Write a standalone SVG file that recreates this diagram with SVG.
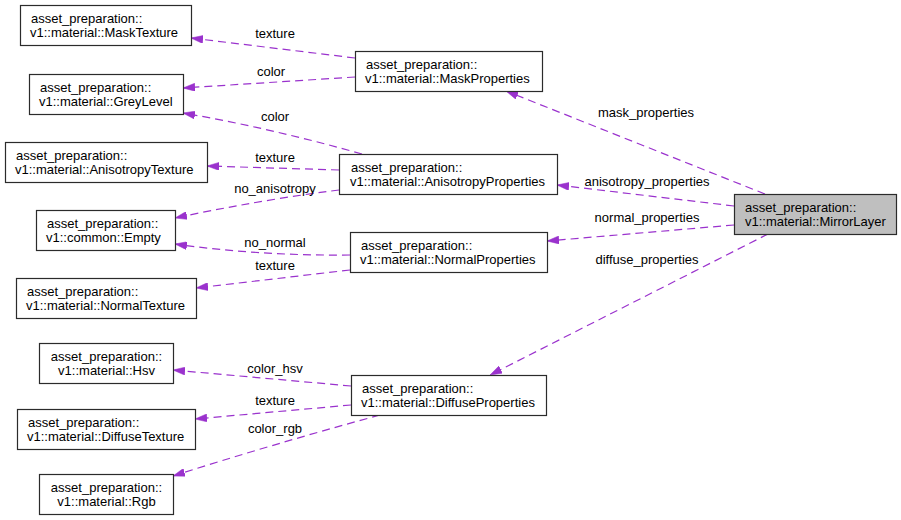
<svg xmlns="http://www.w3.org/2000/svg" width="901" height="520" viewBox="0 0 901 520">
<style>
.box{fill:#fff;stroke:#2b2b2b;stroke-width:1.2}
.hl{fill:#bfbfbf}
text{font-family:"Liberation Sans",Arial,sans-serif;font-size:13px;fill:#000}
.e{fill:none;stroke:#9a32cd;stroke-width:1.2;stroke-dasharray:8,5}
.c{text-anchor:middle}
</style>
<defs>
<marker id="ah" viewBox="0 0 12 8" refX="12" refY="4" markerWidth="12" markerHeight="8" markerUnits="userSpaceOnUse" orient="auto">
<path d="M0,0 L12,4 L0,8 Z" fill="#9a32cd" stroke="#9a32cd" stroke-width="0.5"/>
</marker>
</defs>
<rect width="901" height="520" fill="#fff"/>
<g id="edges">
<path class="e" marker-end="url(#ah)" d="M355,58 L191,38"/>
<text class="c" x="275" y="38">texture</text>
<path class="e" marker-end="url(#ah)" d="M355,77 L183,88"/>
<text class="c" x="271" y="76">color</text>
<path class="e" marker-end="url(#ah)" d="M362,154 Q270,128 183,113"/>
<text class="c" x="275" y="121">color</text>
<path class="e" marker-end="url(#ah)" d="M339,170 L207,166"/>
<text class="c" x="275" y="162">texture</text>
<path class="e" marker-end="url(#ah)" d="M339,190 Q260,200 175,218"/>
<text class="c" x="275" y="193">no_anisotropy</text>
<path class="e" marker-end="url(#ah)" d="M350,255 Q260,256 175,244"/>
<text class="c" x="275" y="247">no_normal</text>
<path class="e" marker-end="url(#ah)" d="M350,270 L196,288"/>
<text class="c" x="275" y="270">texture</text>
<path class="e" marker-end="url(#ah)" d="M765,194 L506,91"/>
<text class="c" x="646" y="117">mask_properties</text>
<path class="e" marker-end="url(#ah)" d="M734,206 L557,185"/>
<text class="c" x="647" y="186">anisotropy_properties</text>
<path class="e" marker-end="url(#ah)" d="M734,225 L547,241"/>
<text class="c" x="647" y="222">normal_properties</text>
<path class="e" marker-end="url(#ah)" d="M768,234 L490,375"/>
<text class="c" x="647" y="264">diffuse_properties</text>
<path class="e" marker-end="url(#ah)" d="M351,386 L173,370"/>
<text class="c" x="275" y="373">color_hsv</text>
<path class="e" marker-end="url(#ah)" d="M351,405 L195,419"/>
<text class="c" x="275" y="405">texture</text>
<path class="e" marker-end="url(#ah)" d="M380,415 Q270,445 173,476"/>
<text class="c" x="275" y="433">color_rgb</text>
</g>
<g id="MaskTexture"><rect class="box" x="20.5" y="5.5" width="171" height="40"/><text x="31" y="23">asset_preparation::</text><text x="30" y="37">v1::material::MaskTexture</text></g>
<g id="GreyLevel"><rect class="box" x="29.5" y="74.5" width="154" height="40"/><text x="40" y="92">asset_preparation::</text><text x="39" y="106">v1::material::GreyLevel</text></g>
<g id="MaskProperties"><rect class="box" x="355.5" y="51.5" width="187" height="40"/><text x="366" y="69">asset_preparation::</text><text x="365" y="83">v1::material::MaskProperties</text></g>
<g id="AnisotropyTexture"><rect class="box" x="5.5" y="142.5" width="202" height="40"/><text x="16" y="160">asset_preparation::</text><text x="15" y="174">v1::material::AnisotropyTexture</text></g>
<g id="AnisotropyProperties"><rect class="box" x="339.5" y="154.5" width="218" height="40"/><text x="351" y="172">asset_preparation::</text><text x="350" y="186">v1::material::AnisotropyProperties</text></g>
<g id="MirrorLayer"><rect class="box hl" x="734.5" y="194.5" width="162" height="40"/><text x="745" y="212">asset_preparation::</text><text x="745" y="226">v1::material::MirrorLayer</text></g>
<g id="Empty"><rect class="box" x="36.5" y="210.5" width="139" height="40"/><text x="47" y="228">asset_preparation::</text><text x="46" y="242">v1::common::Empty</text></g>
<g id="NormalProperties"><rect class="box" x="350.5" y="232.5" width="197" height="40"/><text x="361" y="250">asset_preparation::</text><text x="360" y="264">v1::material::NormalProperties</text></g>
<g id="NormalTexture"><rect class="box" x="16.5" y="278.5" width="180" height="40"/><text x="27" y="296">asset_preparation::</text><text x="26" y="310">v1::material::NormalTexture</text></g>
<g id="Hsv"><rect class="box" x="39.5" y="343.5" width="134" height="40"/><text class="c" x="106.5" y="361">asset_preparation::</text><text class="c" x="106.5" y="375">v1::material::Hsv</text></g>
<g id="DiffuseProperties"><rect class="box" x="351.5" y="375.5" width="195" height="40"/><text x="362" y="393">asset_preparation::</text><text x="361" y="407">v1::material::DiffuseProperties</text></g>
<g id="DiffuseTexture"><rect class="box" x="17.5" y="409.5" width="178" height="40"/><text x="28" y="427">asset_preparation::</text><text x="27" y="441">v1::material::DiffuseTexture</text></g>
<g id="Rgb"><rect class="box" x="39.5" y="474.5" width="134" height="40"/><text class="c" x="106.5" y="492">asset_preparation::</text><text class="c" x="106.5" y="506">v1::material::Rgb</text></g>
</svg>
